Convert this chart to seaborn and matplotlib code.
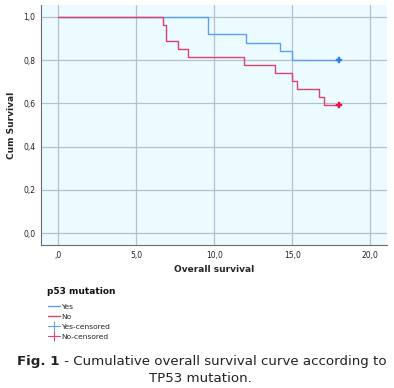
import matplotlib
matplotlib.use("Agg")
import matplotlib.pyplot as plt
import seaborn as sns
import pandas as pd
from matplotlib.lines import Line2D

# Data
yes_times = [0.0, 9.6, 12.0, 14.2, 15.0, 18.0]
yes_surv = [1.0, 0.92, 0.88, 0.84, 0.80, 0.80]
no_times = [0.0, 6.7, 6.9, 7.65, 8.3, 11.9, 13.9, 15.0, 15.3, 16.7, 17.05, 18.0]
no_surv = [1.0, 0.963, 0.889, 0.852, 0.815, 0.778, 0.741, 0.704, 0.667, 0.630, 0.593, 0.593]
censor_yes = ([18.0], [0.80])
censor_no = ([18.0], [0.593])
x_ticks = [0, 5, 10, 15, 20]
x_ticklabels = [",0", "5,0", "10,0", "15,0", "20,0"]
y_ticks = [0.0, 0.2, 0.4, 0.6, 0.8, 1.0]
y_ticklabels = ["0,0", "0,2", "0,4", "0,6", "0,8", "1,0"]
legend_labels = ["Yes", "No", "Yes-censored", "No-censored"]

sns.set_style("white")
plt.rcParams['font.family'] = ['DejaVu Sans']

blue = "#5f9ff0"
red = "#e0406e"
blue_c = "#2f7de6"
red_c = "#e0163f"

fig = plt.figure(figsize=(3.94, 3.88), dpi=100)
ax = fig.add_axes([41/394, 1-245/388, (387-41)/394, (245-5)/388])
ax.set_facecolor("#ebfbff")

df_yes = pd.DataFrame({"t": yes_times, "s": yes_surv})
df_no = pd.DataFrame({"t": no_times, "s": no_surv})
sns.lineplot(data=df_yes, x="t", y="s", drawstyle="steps-post", color=blue, lw=1.0, ax=ax, estimator=None, sort=False)
sns.lineplot(data=df_no, x="t", y="s", drawstyle="steps-post", color=red, lw=1.0, ax=ax, estimator=None, sort=False)
sns.scatterplot(x=censor_yes[0], y=censor_yes[1], marker="P", s=14, color=blue_c, edgecolor=blue_c, linewidth=0.3, ax=ax, zorder=5)
sns.scatterplot(x=censor_no[0], y=censor_no[1], marker="P", s=14, color=red_c, edgecolor=red_c, linewidth=0.3, ax=ax, zorder=5)

ax.set_xlim(-1.11, 21.07)
ax.set_ylim(-0.054, 1.054)
ax.set_xticks(x_ticks)
ax.set_xticklabels(x_ticklabels)
ax.set_yticks(y_ticks)
ax.set_yticklabels(y_ticklabels)
ax.grid(True, color="#b7c1cc", lw=0.9)
ax.set_axisbelow(True)
ax.tick_params(axis="both", labelsize=5.5, length=0, pad=4, colors="#222222")
for s in ["top", "right"]:
    ax.spines[s].set_visible(False)
for s in ["left", "bottom"]:
    ax.spines[s].set_color("#6b6b6b")
    ax.spines[s].set_linewidth(0.8)
ax.set_xlabel("Overall survival", fontsize=6.5, fontweight="bold", labelpad=4)
ax.set_ylabel("Cum Survival", fontsize=6.5, fontweight="bold", labelpad=5)

handles = [
    Line2D([], [], color=blue, lw=1.0, drawstyle="steps-post"),
    Line2D([], [], color=red, lw=1.0),
    Line2D([], [], color=blue, lw=0.8, marker="|", markersize=7, markeredgewidth=0.8),
    Line2D([], [], color=red, lw=0.8, marker="|", markersize=7, markeredgewidth=0.8),
]
fig.text(47/394, 1-292/388, "p53 mutation", fontsize=6.5, fontweight="bold", va="center", color="#111111")
leg = fig.legend(handles, legend_labels, loc="upper left",
                 bbox_to_anchor=(44/394, 1-300/388), frameon=False, fontsize=5.4,
                 handlelength=1.6, handletextpad=0.15, labelspacing=0.5,
                 borderpad=0)

# Caption
fig.canvas.draw()
r = fig.canvas.get_renderer()
fs = 9.6
t1 = fig.text(0, 1-361/388, "Fig. 1", fontsize=fs, fontweight="bold", va="center", color="#222222")
t2 = fig.text(0, 1-361/388, " - Cumulative overall survival curve according to", fontsize=fs, va="center", color="#222222")
w1 = t1.get_window_extent(r).width
w2 = t2.get_window_extent(r).width
total = w1 + w2
x0 = 202 - total/2
t1.set_x(x0/394)
t2.set_x((x0 + w1)/394)
fig.text(200/394, 1-378/388, "TP53 mutation.", fontsize=fs, ha="center", va="center", color="#222222")

fig.savefig("out.png", dpi=100)
